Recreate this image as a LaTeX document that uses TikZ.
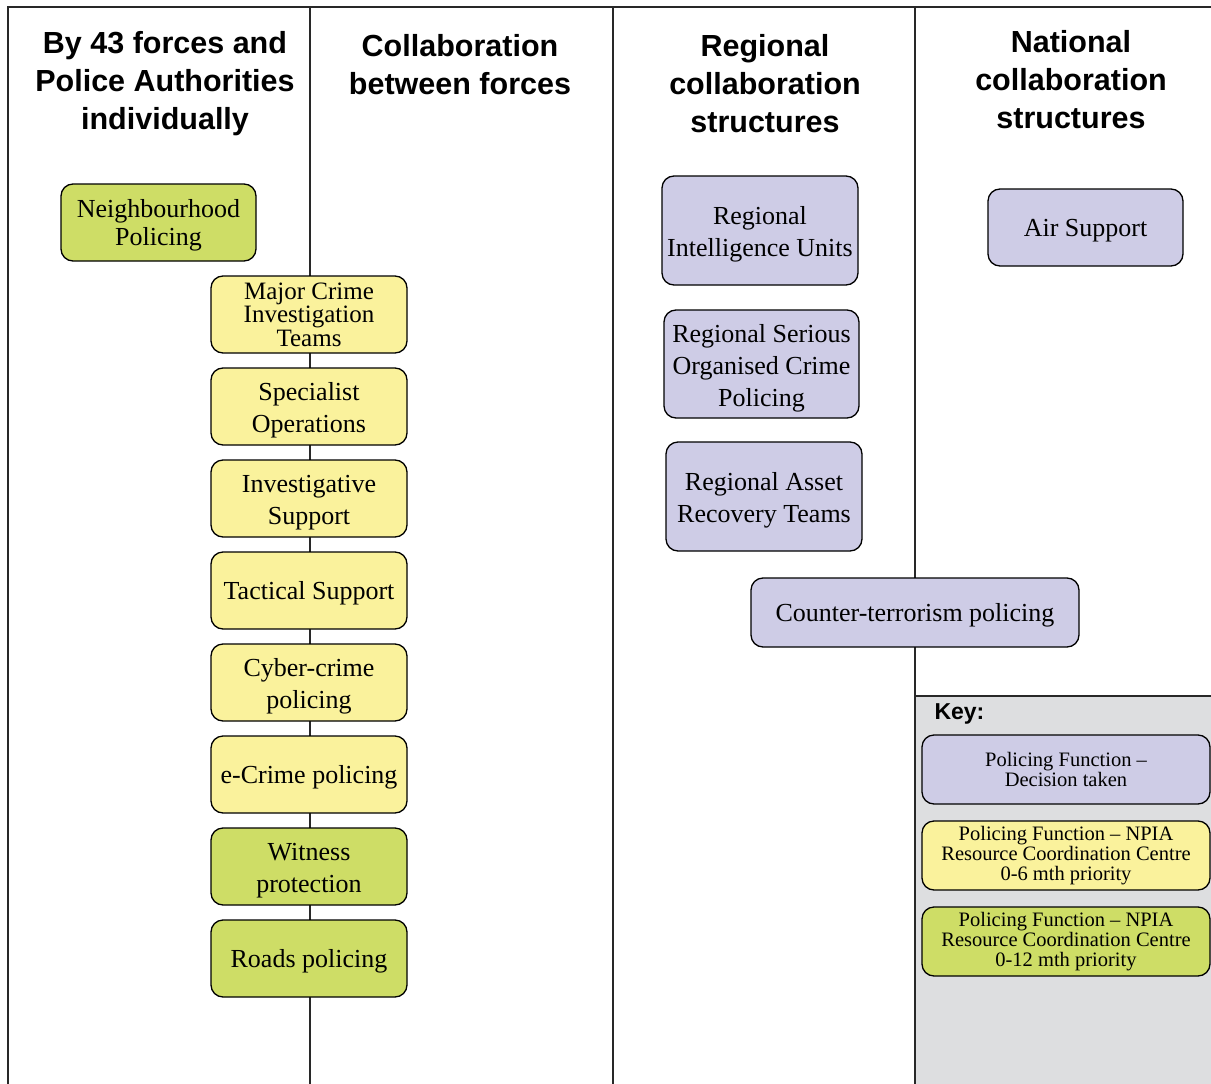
\documentclass[tikz,border=0pt]{standalone}
\usepackage{fontspec}
\setmainfont{Liberation Serif}
\setsansfont{Liberation Sans}
\definecolor{grn}{RGB}{206,221,102}
\definecolor{ylw}{RGB}{250,242,156}
\definecolor{prp}{RGB}{206,204,230}
\definecolor{keybg}{RGB}{221,222,224}
\definecolor{frame}{RGB}{40,40,40}
\tikzset{
  fbox/.style={draw=black, line width=1.3pt, rounded corners=12pt, inner sep=0pt},
  btext/.style={align=center, inner sep=0pt, font=\fontsize{26}{32}\selectfont},
  tight/.style={font=\fontsize{25}{23.5}\selectfont},
  mid/.style={font=\fontsize{26}{28}\selectfont},
  keytext/.style={font=\fontsize{20.5}{20}\selectfont},
  head/.style={align=center, font=\fontsize{30.5}{38}\selectfont\sffamily\bfseries},
  divider/.style={draw=frame, line width=1.3pt}
}
% #1 name, #2 box options, #3 centre, #4 text shift, #5 text options, #6 text
\newcommand\pbox[6]{%
  \node[fbox,#2] (#1) at (#3) {};
  \node[btext,#5] (#1-t) at ([yshift=#4]#1.center) {#6};}
\begin{document}
\begin{tikzpicture}[x=1pt,y=-1pt]
\useasboundingbox (0,0) rectangle (1211,1084);
\fill[white] (0,0) rectangle (1211,1084);
% key background
\fill[keybg] (915,696) rectangle (1211,1084);
\draw[divider] (915,696) -- (1211,696);
% frame lines
\draw[divider] (8,1084) -- (8,7) -- (1211,7);
\draw[divider] (310,7) -- (310,1084);
\draw[divider] (613,7) -- (613,1084);
\draw[divider] (915,7) -- (915,1084);
% headers
\node[head] (h1) at (165,84) {By 43 forces and\\Police Authorities\\individually};
\node[head] (h2) at (460,65) {Collaboration\\between forces};
\node[head] (h3) at (765,84) {Regional\\collaboration\\structures};
\node[head] (h4) at (1071,80) {National\\collaboration\\structures};
% column 1/2 boxes
\pbox{nbh}{fill=grn, minimum width=195pt, minimum height=77pt}{158.5,222.5}{-3pt}{mid}{Neighbourhood\\Policing}
\pbox{mcit}{fill=ylw, minimum width=196pt, minimum height=77pt}{309,314.5}{0pt}{tight}{Major Crime\\Investigation\\Teams}
\pbox{spec}{fill=ylw, minimum width=196pt, minimum height=77pt}{309,406.5}{-4pt}{}{Specialist\\Operations}
\pbox{inv}{fill=ylw, minimum width=196pt, minimum height=77pt}{309,498.5}{-4pt}{}{Investigative\\Support}
\pbox{tac}{fill=ylw, minimum width=196pt, minimum height=77pt}{309,590.5}{-3pt}{}{Tactical Support}
\pbox{cyb}{fill=ylw, minimum width=196pt, minimum height=77pt}{309,682.5}{-4pt}{}{Cyber-crime\\policing}
\pbox{ecr}{fill=ylw, minimum width=196pt, minimum height=77pt}{309,774.5}{-3pt}{}{e-Crime policing}
\pbox{wit}{fill=grn, minimum width=196pt, minimum height=77pt}{309,866.5}{-4pt}{}{Witness\\protection}
\pbox{rds}{fill=grn, minimum width=196pt, minimum height=77pt}{309,958.5}{-3pt}{}{Roads policing}
% regional
\pbox{riu}{fill=prp, minimum width=196pt, minimum height=109pt}{760,230.5}{-4pt}{}{Regional\\Intelligence Units}
\pbox{rsoc}{fill=prp, minimum width=195pt, minimum height=108pt}{761.5,364}{-4pt}{}{Regional Serious\\Organised Crime\\Policing}
\pbox{rart}{fill=prp, minimum width=196pt, minimum height=109pt}{764,496.5}{-4pt}{}{Regional Asset\\Recovery Teams}
\pbox{ctp}{fill=prp, minimum width=328pt, minimum height=69pt}{915,612.5}{-3pt}{}{Counter-terrorism policing}
% national
\pbox{air}{fill=prp, minimum width=195pt, minimum height=77pt}{1085.5,227.5}{-3pt}{}{Air Support}
% key
\node[anchor=west, font=\fontsize{23}{26}\selectfont\sffamily\bfseries] (keylbl) at (931,714) {Key:};
\pbox{k1}{fill=prp, minimum width=288pt, minimum height=69pt}{1066,769.5}{0pt}{keytext}{Policing Function --\\Decision taken}
\pbox{k2}{fill=ylw, minimum width=288pt, minimum height=69pt}{1066,855.5}{0pt}{keytext}{Policing Function -- NPIA\\Resource Coordination Centre\\0-6 mth priority}
\pbox{k3}{fill=grn, minimum width=288pt, minimum height=69pt}{1066,941.5}{0pt}{keytext}{Policing Function -- NPIA\\Resource Coordination Centre\\0-12 mth priority}
\end{tikzpicture}
\end{document}
